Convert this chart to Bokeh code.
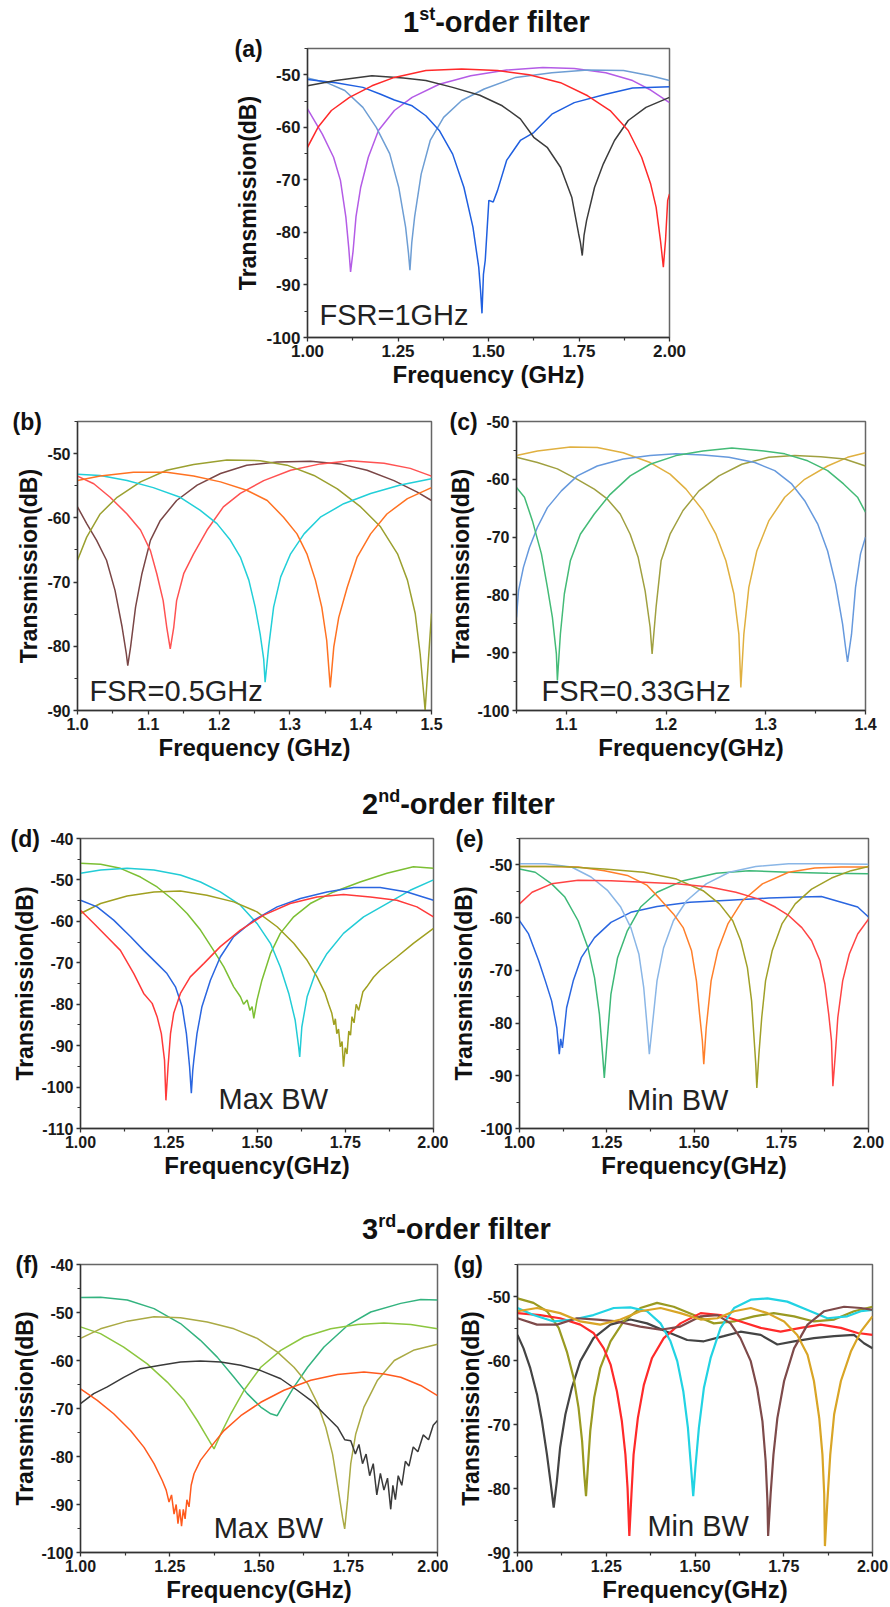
from bokeh.plotting import figure
from bokeh.layouts import column, row
from bokeh.models import Label, FixedTicker, PrintfTickFormatter, Range1d, Div
from bokeh.embed import file_html
from bokeh.resources import INLINE

FONT = "Liberation Sans"

# ================= DATA (frequency GHz, transmission dB) =================
# ---- (a) 1st-order, FSR = 1 GHz ----
A_VIOLET = [(1.000,-56.5),(1.041,-61.3),(1.072,-65.7),(1.091,-70.1),(1.106,-77.1),(1.114,-83.0),(1.119,-87.5),
            (1.126,-83.5),(1.134,-77.0),(1.147,-71.4),(1.168,-65.7),(1.196,-60.6),(1.240,-56.8),(1.289,-54.3),
            (1.364,-51.8),(1.451,-50.2),(1.550,-49.1),(1.650,-48.6),(1.737,-48.8),(1.824,-49.6),(1.898,-51.1),
            (1.948,-52.9),(2.000,-55.3)]
A_STEEL = [(1.000,-50.6),(1.053,-51.5),(1.103,-53.0),(1.153,-56.2),(1.190,-60.0),(1.227,-65.0),(1.252,-71.4),
           (1.271,-79.0),(1.279,-84.0),(1.283,-87.2),(1.288,-82.0),(1.296,-77.0),(1.314,-68.9),(1.339,-62.5),
           (1.376,-58.1),(1.426,-54.9),(1.488,-52.7),(1.575,-50.5),(1.675,-49.6),(1.774,-49.1),(1.873,-49.2),
           (1.948,-50.2),(2.000,-51.1)]
A_BLUE = [(1.000,-50.9),(1.078,-51.5),(1.153,-52.4),(1.202,-53.7),(1.240,-54.8),(1.289,-55.9),(1.327,-57.8),
          (1.364,-60.6),(1.401,-65.1),(1.432,-71.4),(1.457,-79.0),(1.473,-86.6),(1.478,-91.0),(1.482,-95.4),
          (1.486,-88.0),(1.491,-85.3),(1.501,-73.9),(1.513,-74.2),(1.525,-72.0),(1.550,-66.3),(1.588,-62.5),
          (1.625,-61.0),(1.675,-57.5),(1.737,-55.3),(1.824,-53.7),(1.898,-52.5),(2.000,-52.3)]
A_GREY = [(1.000,-52.1),(1.078,-51.1),(1.178,-50.2),(1.265,-50.6),(1.327,-51.1),(1.401,-52.4),(1.476,-53.9),
          (1.538,-55.9),(1.588,-58.4),(1.625,-61.9),(1.662,-63.8),(1.699,-67.6),(1.730,-73.3),(1.749,-80.3),
          (1.754,-82.0),(1.759,-84.4),(1.764,-80.5),(1.771,-77.7),(1.793,-71.4),(1.817,-67.0),(1.848,-62.5),
          (1.886,-58.7),(1.935,-56.2),(2.000,-54.3)]
A_RED = [(1.000,-63.8),(1.029,-60.0),(1.066,-56.8),(1.116,-54.3),(1.178,-52.1),(1.240,-50.5),(1.327,-49.2),
         (1.426,-48.9),(1.525,-49.2),(1.612,-50.0),(1.699,-51.5),(1.774,-54.0),(1.836,-56.8),(1.886,-60.6),
         (1.923,-65.7),(1.948,-70.8),(1.963,-75.2),(1.975,-81.5),(1.983,-86.6),(1.989,-81.5),(1.995,-73.9),
         (2.000,-72.7)]
A_CURVES = [A_VIOLET, A_STEEL, A_BLUE, A_GREY, A_RED]
A_COLORS = ["#B45CE6", "#6E9ED4", "#1F5FE0", "#3C3C3C", "#FF2A2A"]
A_XTICKS = [1.0, 1.25, 1.5, 1.75, 2.0]
A_XMINOR = [1.125, 1.375, 1.625, 1.875]
A_YTICKS = [-100, -90, -80, -70, -60, -50]
A_YMINOR = [-95, -85, -75, -65, -55, -45]

# ---- (b) 1st-order, FSR = 0.5 GHz ----
B_BROWN = [(1.000,-58.3),(1.013,-60.9),(1.027,-63.5),(1.041,-66.6),(1.053,-71.3),(1.063,-77.0),(1.069,-81.2),
           (1.071,-83.0),(1.075,-80.1),(1.082,-73.9),(1.091,-68.7),(1.103,-63.5),(1.117,-60.4),(1.140,-57.3),
           (1.169,-54.9),(1.202,-53.1),(1.239,-51.8),(1.282,-51.3),(1.329,-51.2),(1.371,-51.6),(1.409,-52.6),
           (1.447,-54.2),(1.480,-56.0),(1.500,-57.3)]
B_RED = [(1.000,-53.5),(1.023,-54.7),(1.046,-56.8),(1.070,-59.4),(1.089,-61.9),(1.103,-65.1),(1.112,-68.7),
         (1.121,-72.9),(1.126,-77.0),(1.131,-80.4),(1.136,-77.0),(1.140,-72.9),(1.150,-68.7),(1.164,-65.6),
         (1.183,-61.9),(1.206,-58.3),(1.230,-56.2),(1.263,-54.2),(1.301,-52.6),(1.343,-51.6),(1.385,-51.1),
         (1.433,-51.5),(1.470,-52.3),(1.500,-53.5)]
B_OLIVE = [(1.000,-66.6),(1.013,-63.0),(1.032,-59.4),(1.056,-56.8),(1.089,-54.4),(1.126,-52.6),(1.164,-51.7),
           (1.211,-51.0),(1.258,-51.1),(1.296,-51.8),(1.334,-53.4),(1.367,-55.5),(1.400,-58.3),(1.428,-61.4),
           (1.452,-65.6),(1.466,-69.7),(1.477,-74.9),(1.484,-81.2),(1.489,-87.4),(1.491,-90.0),(1.495,-83.2),
           (1.500,-74.9)]
B_CYAN = [(1.000,-53.2),(1.032,-53.4),(1.070,-54.2),(1.107,-55.3),(1.145,-56.8),(1.173,-58.8),(1.197,-60.9),
          (1.216,-63.5),(1.230,-66.1),(1.242,-69.7),(1.251,-73.9),(1.258,-78.1),(1.263,-82.0),(1.265,-85.6),
          (1.270,-80.1),(1.277,-73.9),(1.287,-69.2),(1.301,-65.6),(1.320,-62.5),(1.343,-59.9),(1.376,-57.8),
          (1.414,-56.2),(1.456,-54.9),(1.500,-53.9)]
B_ORANGE = [(1.000,-54.2),(1.032,-53.5),(1.079,-52.9),(1.126,-52.9),(1.164,-53.5),(1.202,-54.4),(1.239,-55.7),
            (1.268,-57.3),(1.291,-59.9),(1.310,-62.5),(1.324,-65.6),(1.336,-69.7),(1.345,-73.9),(1.352,-79.1),
            (1.357,-86.4),(1.362,-80.1),(1.369,-75.5),(1.381,-70.8),(1.395,-66.1),(1.414,-62.5),(1.437,-59.4),
            (1.466,-57.0),(1.500,-55.3)]
B_CURVES = [B_BROWN, B_RED, B_OLIVE, B_CYAN, B_ORANGE]
B_COLORS = ["#7A4646", "#FF5252", "#9BA030", "#22CFD8", "#FF7222"]
B_XTICKS = [1.0, 1.1, 1.2, 1.3, 1.4, 1.5]
B_XMINOR = [1.05, 1.15, 1.25, 1.35, 1.45]
B_YTICKS = [-90, -80, -70, -60, -50]
B_YMINOR = [-85, -75, -65, -55, -45]

# ---- (c) 1st-order, FSR = 0.33 GHz ----
C_GOLD = [(1.050,-55.9),(1.071,-55.1),(1.104,-54.4),(1.131,-54.5),(1.157,-55.4),(1.184,-57.1),(1.204,-59.1),
          (1.220,-61.7),(1.237,-65.4),(1.250,-69.5),(1.260,-74.1),(1.268,-79.8),(1.273,-86.8),(1.275,-96.0),
          (1.278,-86.8),(1.283,-78.7),(1.291,-72.4),(1.303,-67.2),(1.319,-63.1),(1.339,-60.0),(1.362,-57.7),
          (1.382,-56.2),(1.400,-55.4)]
C_OLIVE = [(1.050,-56.2),(1.071,-57.1),(1.091,-58.2),(1.111,-60.0),(1.128,-61.7),(1.141,-63.4),(1.154,-66.0),
           (1.164,-69.5),(1.172,-73.5),(1.179,-79.3),(1.184,-85.6),(1.186,-90.2),(1.190,-82.1),(1.195,-74.1),
           (1.204,-69.5),(1.217,-65.4),(1.233,-62.0),(1.253,-59.4),(1.276,-57.4),(1.303,-56.2),(1.329,-55.9),
           (1.355,-56.1),(1.379,-56.5),(1.400,-57.7)]
C_BLUE = [(1.050,-83.9),(1.052,-79.3),(1.057,-75.2),(1.063,-71.8),(1.071,-68.3),(1.081,-64.9),(1.095,-62.0),
          (1.111,-59.4),(1.131,-57.7),(1.157,-56.5),(1.184,-55.9),(1.210,-55.6),(1.237,-55.8),(1.263,-56.2),
          (1.289,-57.1),(1.309,-58.5),(1.326,-60.8),(1.339,-63.7),(1.352,-67.7),(1.362,-72.4),(1.370,-78.1),
          (1.377,-85.0),(1.380,-89.1),(1.382,-91.6),(1.386,-86.8),(1.390,-78.7),(1.395,-72.9),(1.400,-70.0)]
C_GREEN = [(1.050,-61.4),(1.058,-63.1),(1.066,-67.2),(1.075,-72.9),(1.081,-78.7),(1.086,-83.9),(1.090,-90.2),
           (1.091,-94.8),(1.094,-86.8),(1.098,-79.8),(1.104,-74.1),(1.114,-69.5),(1.128,-66.0),(1.144,-62.6),
           (1.164,-59.4),(1.184,-57.4),(1.210,-55.9),(1.237,-55.1),(1.266,-54.6),(1.293,-55.0),(1.319,-55.6),
           (1.342,-56.8),(1.362,-58.5),(1.378,-60.8),(1.392,-63.1),(1.400,-65.7)]
C_CURVES = [C_GOLD, C_OLIVE, C_BLUE, C_GREEN]
C_COLORS = ["#E0B040", "#A0A040", "#6699DD", "#44BB77"]
C_XTICKS = [1.1, 1.2, 1.3, 1.4]
C_XMINOR = [1.05, 1.15, 1.25, 1.35]
C_YTICKS = [-100, -90, -80, -70, -60, -50]
C_YMINOR = [-95, -85, -75, -65, -55]

# ---- (d) 2nd-order, max bandwidth ----
D_LIME = [(1.000,-46.0),(1.057,-46.2),(1.113,-47.2),(1.170,-49.3),(1.217,-51.7),(1.264,-54.9),(1.302,-58.1),
          (1.340,-62.1),(1.377,-67.0),(1.406,-71.0),(1.434,-75.8),(1.453,-78.2),(1.462,-80.0),(1.472,-79.0),
          (1.480,-81.5),(1.486,-80.6),(1.491,-83.4),(1.500,-79.0),(1.514,-74.2),(1.538,-67.8),(1.566,-62.9),
          (1.604,-58.9),(1.651,-55.7),(1.717,-52.9),(1.792,-50.5),(1.868,-48.4),(1.943,-46.8),(2.000,-47.2)]
D_CYAN = [(1.000,-48.4),(1.057,-47.6),(1.132,-47.2),(1.208,-47.6),(1.283,-48.8),(1.340,-50.5),(1.396,-52.9),
          (1.453,-56.1),(1.500,-60.5),(1.538,-65.3),(1.566,-71.0),(1.590,-77.4),(1.608,-83.8),(1.618,-90.3),
          (1.621,-92.7),(1.627,-85.5),(1.642,-78.2),(1.665,-72.6),(1.698,-67.8),(1.745,-62.9),(1.802,-58.9),
          (1.868,-55.7),(1.934,-52.5),(2.000,-50.0)]
D_OLIVE = [(1.000,-58.1),(1.057,-55.7),(1.132,-53.9),(1.208,-52.9),(1.283,-52.7),(1.358,-53.7),(1.434,-55.3),
           (1.500,-57.7),(1.557,-61.3),(1.604,-65.3),(1.642,-69.4),(1.670,-73.4),(1.693,-77.4),(1.703,-80.0),
           (1.712,-82.2),(1.718,-85.0),(1.722,-83.5),(1.726,-87.1),(1.731,-86.0),(1.736,-90.3),(1.741,-89.0),
           (1.745,-95.1),(1.750,-90.5),(1.755,-92.0),(1.760,-86.5),(1.765,-87.5),(1.769,-83.0),(1.775,-84.5),
           (1.781,-80.0),(1.788,-81.5),(1.800,-77.0),(1.811,-75.8),(1.830,-73.5),(1.849,-71.8),(1.896,-68.6),
           (1.943,-65.3),(2.000,-61.7)]
D_BLUE = [(1.000,-54.9),(1.047,-56.5),(1.094,-59.7),(1.142,-63.7),(1.179,-67.0),(1.217,-70.2),(1.245,-72.6),
          (1.269,-75.8),(1.288,-80.6),(1.300,-87.1),(1.305,-91.5),(1.309,-95.1),(1.314,-101.5),(1.318,-96.0),
          (1.321,-93.5),(1.330,-87.1),(1.344,-80.6),(1.368,-74.2),(1.396,-68.6),(1.434,-63.7),(1.491,-59.7),
          (1.557,-56.5),(1.623,-54.5),(1.698,-52.9),(1.774,-51.8),(1.849,-51.8),(1.925,-52.9),(2.000,-54.9)]
D_RED = [(1.000,-57.3),(1.038,-60.5),(1.075,-63.7),(1.113,-67.0),(1.151,-72.6),(1.179,-77.4),(1.203,-79.8),
         (1.217,-83.0),(1.229,-87.1),(1.238,-93.5),(1.242,-103.2),(1.248,-95.1),(1.255,-87.1),(1.264,-82.2),
         (1.283,-77.4),(1.311,-73.4),(1.349,-70.2),(1.396,-66.1),(1.453,-62.1),(1.519,-58.5),(1.594,-55.7),
         (1.670,-54.1),(1.745,-53.5),(1.821,-54.1),(1.896,-54.9),(1.953,-56.5),(2.000,-58.9)]
D_CURVES = [D_LIME, D_CYAN, D_OLIVE, D_BLUE, D_RED]
D_COLORS = ["#7CBF33", "#22CCD6", "#A0A020", "#2A66E0", "#FF3A3A"]
D_XTICKS = [1.0, 1.25, 1.5, 1.75, 2.0]
D_XMINOR = [1.125, 1.375, 1.625, 1.875]
D_YTICKS = [-110, -100, -90, -80, -70, -60, -50, -40]
D_YMINOR = [-105, -95, -85, -75, -65, -55, -45]

# ---- (e) 2nd-order, min bandwidth ----
E_BLUE = [(1.000,-60.6),(1.026,-63.1),(1.055,-68.2),(1.074,-72.0),(1.092,-75.8),(1.107,-80.9),(1.114,-85.9),
          (1.118,-83.0),(1.123,-84.7),(1.135,-77.1),(1.154,-72.0),(1.177,-67.6),(1.215,-63.8),(1.262,-60.9),
          (1.319,-59.0),(1.394,-57.9),(1.488,-57.1),(1.601,-56.7),(1.714,-56.3),(1.809,-56.1),(1.865,-56.0),
          (1.922,-57.1),(1.969,-58.0),(2.000,-59.9)]
E_GREEN = [(1.000,-50.8),(1.045,-51.4),(1.092,-53.6),(1.130,-56.1),(1.168,-60.6),(1.196,-65.7),(1.215,-71.4),
           (1.229,-78.3),(1.238,-85.9),(1.243,-90.4),(1.251,-83.4),(1.262,-74.5),(1.281,-67.6),(1.309,-62.5),
           (1.347,-58.0),(1.394,-55.2),(1.469,-53.0),(1.564,-51.6),(1.658,-51.1),(1.771,-51.4),(1.884,-51.6),
           (2.000,-51.7)]
E_SKY = [(1.000,-49.8),(1.074,-49.8),(1.149,-50.4),(1.205,-52.3),(1.253,-54.9),(1.290,-58.0),(1.319,-61.9),
         (1.342,-66.9),(1.356,-73.3),(1.366,-80.9),(1.372,-85.9),(1.380,-80.9),(1.394,-72.0),(1.413,-65.7),
         (1.441,-60.6),(1.479,-56.8),(1.535,-53.6),(1.601,-51.4),(1.677,-50.3),(1.771,-49.8),(1.865,-49.8),
         (2.000,-49.9)]
E_ORANGE = [(1.000,-50.3),(1.074,-50.3),(1.168,-50.4),(1.243,-51.1),(1.309,-52.0),(1.366,-53.9),(1.403,-56.5),
            (1.441,-59.3),(1.469,-61.9),(1.493,-66.3),(1.507,-72.0),(1.516,-78.3),(1.524,-83.4),(1.528,-87.8),
            (1.535,-80.9),(1.549,-72.0),(1.568,-66.3),(1.597,-61.2),(1.639,-56.8),(1.696,-53.6),(1.771,-51.4),
            (1.846,-50.6),(1.922,-50.4),(2.000,-50.4)]
E_OLIVE = [(1.000,-50.3),(1.121,-50.3),(1.243,-50.8),(1.356,-51.4),(1.450,-52.7),(1.526,-54.9),(1.573,-57.4),
           (1.611,-60.6),(1.634,-64.4),(1.653,-69.5),(1.665,-75.8),(1.672,-82.8),(1.677,-87.8),(1.680,-92.3),
           (1.686,-85.9),(1.694,-79.0),(1.705,-72.0),(1.724,-66.3),(1.752,-61.2),(1.790,-57.4),(1.837,-54.6),
           (1.894,-52.5),(1.950,-51.1),(2.000,-50.3)]
E_RED = [(1.000,-57.4),(1.036,-55.2),(1.092,-53.6),(1.168,-52.9),(1.262,-53.0),(1.356,-53.3),(1.450,-53.6),
         (1.545,-54.2),(1.620,-55.2),(1.686,-56.5),(1.733,-58.0),(1.771,-59.6),(1.809,-61.9),(1.837,-64.4),
         (1.861,-68.2),(1.875,-72.6),(1.886,-78.3),(1.894,-83.4),(1.898,-92.0),(1.905,-85.9),(1.912,-79.0),
         (1.926,-72.0),(1.945,-66.9),(1.969,-63.1),(2.000,-60.3)]
E_CURVES = [E_BLUE, E_GREEN, E_SKY, E_ORANGE, E_OLIVE, E_RED]
E_COLORS = ["#2A66E0", "#3DB877", "#8AB6E6", "#FF7F2A", "#A0A028", "#FF4444"]
E_XTICKS = [1.0, 1.25, 1.5, 1.75, 2.0]
E_XMINOR = [1.125, 1.375, 1.625, 1.875]
E_YTICKS = [-100, -90, -80, -70, -60, -50]
E_YMINOR = [-95, -85, -75, -65, -55, -45]

# ---- (f) 3rd-order, max bandwidth ----
F_TEAL = [(1.000,-46.9),(1.056,-46.8),(1.131,-47.4),(1.206,-49.2),(1.280,-52.3),(1.336,-55.8),(1.383,-59.3),
          (1.430,-63.5),(1.467,-66.9),(1.505,-69.7),(1.533,-71.1),(1.551,-71.5),(1.570,-69.0),(1.598,-65.5),
          (1.636,-61.4),(1.682,-57.2),(1.748,-52.7),(1.813,-49.9),(1.897,-48.1),(1.953,-47.3),(2.000,-47.4)]
F_LIME = [(1.000,-53.0),(1.056,-54.4),(1.121,-57.2),(1.187,-60.7),(1.243,-64.5),(1.290,-68.3),(1.327,-72.5),
          (1.355,-76.0),(1.374,-78.4),(1.393,-75.3),(1.421,-71.1),(1.458,-66.2),(1.505,-61.4),(1.561,-57.9),
          (1.626,-55.1),(1.701,-53.4),(1.776,-52.5),(1.850,-52.2),(1.925,-52.5),(2.000,-53.4)]
F_KHAKI = [(1.000,-55.4),(1.056,-53.4),(1.131,-51.8),(1.206,-50.9),(1.280,-51.1),(1.355,-52.0),(1.430,-53.4),
           (1.495,-55.4),(1.551,-58.2),(1.598,-61.4),(1.636,-64.8),(1.664,-69.0),(1.687,-73.9),(1.706,-79.5),
           (1.721,-86.4),(1.734,-92.7),(1.740,-95.1),(1.748,-89.2),(1.757,-81.5),(1.771,-75.3),(1.794,-69.7),
           (1.832,-64.1),(1.879,-60.0),(1.935,-57.8),(2.000,-56.6)]
F_GREY = [(1.000,-69.0),(1.037,-66.9),(1.075,-65.5),(1.121,-63.5),(1.168,-61.7),(1.224,-61.0),(1.280,-60.3),
          (1.336,-60.1),(1.393,-60.3),(1.449,-61.0),(1.505,-62.1),(1.561,-63.8),(1.607,-66.2),(1.645,-68.3),
          (1.682,-71.1),(1.720,-73.9),(1.740,-76.5),(1.757,-76.7),(1.770,-79.5),(1.780,-77.5),(1.790,-81.5),
          (1.800,-79.5),(1.810,-84.0),(1.820,-81.5),(1.830,-88.0),(1.840,-83.5),(1.850,-87.0),(1.860,-84.5),
          (1.869,-91.0),(1.875,-86.0),(1.882,-89.0),(1.890,-84.0),(1.900,-86.0),(1.910,-81.0),(1.920,-82.0),
          (1.932,-78.0),(1.945,-79.0),(1.960,-75.5),(1.975,-76.5),(1.988,-73.5),(2.000,-72.5)]
F_ORANGE = [(1.000,-65.9),(1.047,-68.3),(1.093,-71.1),(1.140,-74.6),(1.178,-78.1),(1.206,-81.5),(1.229,-85.0),
            (1.240,-87.0),(1.248,-89.5),(1.255,-88.0),(1.262,-92.0),(1.268,-90.0),(1.273,-94.0),(1.278,-91.0),
            (1.283,-94.5),(1.288,-91.0),(1.293,-93.0),(1.298,-89.0),(1.304,-90.5),(1.310,-86.0),(1.318,-83.6),
            (1.336,-80.8),(1.364,-78.1),(1.402,-74.6),(1.449,-71.5),(1.505,-68.7),(1.570,-66.2),(1.645,-64.1),
            (1.720,-62.9),(1.794,-62.4),(1.850,-62.8),(1.897,-63.5),(1.953,-65.2),(2.000,-67.3)]
F_CURVES = [F_TEAL, F_LIME, F_KHAKI, F_GREY, F_ORANGE]
F_COLORS = ["#33B37F", "#8CC63F", "#AAAA44", "#3A3A3A", "#FF5A1E"]
F_XTICKS = [1.0, 1.25, 1.5, 1.75, 2.0]
F_XMINOR = [1.125, 1.375, 1.625, 1.875]
F_YTICKS = [-100, -90, -80, -70, -60, -50, -40]
F_YMINOR = [-95, -85, -75, -65, -55, -45]

# ---- (g) 3rd-order, min bandwidth ----
G_GREY = [(1.000,-56.0),(1.017,-58.1),(1.036,-61.2),(1.055,-65.3),(1.069,-69.5),(1.083,-74.7),(1.094,-79.4),
          (1.102,-83.0),(1.111,-78.8),(1.120,-73.6),(1.135,-68.4),(1.153,-64.3),(1.177,-60.1),(1.214,-56.5),
          (1.262,-54.4),(1.318,-53.6),(1.365,-54.2),(1.421,-55.5),(1.478,-56.8),(1.525,-57.0),(1.581,-56.2),
          (1.628,-55.5),(1.685,-56.0),(1.732,-57.5),(1.779,-57.0),(1.835,-56.5),(1.892,-56.2),(1.948,-56.0),
          (1.976,-57.3),(2.000,-58.1)]
G_OLIVE = [(1.000,-50.3),(1.045,-51.0),(1.083,-52.3),(1.116,-54.9),(1.139,-58.6),(1.158,-62.7),(1.172,-67.4),
           (1.182,-72.6),(1.188,-77.8),(1.193,-81.2),(1.198,-76.8),(1.205,-71.0),(1.216,-65.8),(1.233,-61.2),
           (1.262,-57.0),(1.299,-53.9),(1.346,-51.8),(1.393,-51.0),(1.440,-51.6),(1.497,-52.9),(1.553,-54.2),
           (1.610,-53.9),(1.666,-53.1),(1.722,-52.6),(1.779,-53.1),(1.835,-53.9),(1.892,-53.6),(1.948,-52.3),
           (2.000,-51.6)]
G_RED = [(1.000,-52.6),(1.064,-52.9),(1.120,-53.4),(1.177,-54.4),(1.214,-55.7),(1.243,-58.1),(1.262,-60.6),
         (1.280,-64.8),(1.294,-69.5),(1.304,-74.7),(1.310,-79.9),(1.315,-87.4),(1.321,-80.9),(1.327,-74.7),
         (1.339,-69.0),(1.356,-63.8),(1.379,-59.6),(1.412,-56.5),(1.459,-54.2),(1.516,-52.6),(1.572,-52.9),
         (1.628,-53.9),(1.685,-54.9),(1.741,-55.5),(1.798,-54.9),(1.854,-54.4),(1.911,-54.9),(1.958,-55.7),
         (2.000,-56.0)]
G_CYAN = [(1.000,-51.8),(1.045,-52.9),(1.102,-53.9),(1.158,-53.6),(1.214,-52.9),(1.271,-51.8),(1.318,-51.7),
          (1.365,-52.3),(1.403,-54.2),(1.431,-57.0),(1.450,-60.1),(1.467,-64.8),(1.480,-70.5),(1.489,-76.8),
          (1.495,-81.2),(1.501,-76.8),(1.511,-70.5),(1.525,-64.3),(1.544,-59.6),(1.572,-54.9),(1.610,-51.8),
          (1.657,-50.5),(1.704,-50.3),(1.760,-50.8),(1.817,-52.1),(1.873,-53.4),(1.929,-53.1),(1.967,-52.3),
          (2.000,-52.1)]
G_BROWN = [(1.000,-53.4),(1.055,-54.4),(1.111,-54.4),(1.167,-53.4),(1.224,-53.6),(1.280,-53.9),(1.346,-54.7),
           (1.403,-55.2),(1.459,-54.7),(1.516,-53.1),(1.563,-52.9),(1.600,-54.2),(1.628,-56.5),(1.657,-60.1),
           (1.675,-64.3),(1.690,-69.5),(1.699,-75.7),(1.704,-81.9),(1.706,-87.4),(1.713,-80.9),(1.721,-74.7),
           (1.732,-69.0),(1.751,-63.2),(1.779,-58.1),(1.817,-54.4),(1.864,-52.3),(1.920,-51.6),(1.967,-51.8),
           (2.000,-52.1)]
G_GOLD = [(1.000,-52.3),(1.055,-51.8),(1.120,-52.6),(1.177,-53.9),(1.233,-54.4),(1.290,-53.6),(1.346,-52.3),
          (1.403,-51.8),(1.459,-52.6),(1.516,-53.6),(1.563,-53.4),(1.610,-52.3),(1.657,-51.8),(1.704,-52.6),
          (1.751,-53.9),(1.788,-56.0),(1.817,-59.1),(1.835,-63.2),(1.850,-69.0),(1.859,-74.7),(1.864,-80.9),
          (1.866,-89.0),(1.873,-81.9),(1.881,-74.7),(1.892,-68.4),(1.911,-63.2),(1.939,-58.6),(1.967,-55.5),
          (2.000,-53.1)]
G_CURVES = [G_GREY, G_OLIVE, G_RED, G_CYAN, G_BROWN, G_GOLD]
G_COLORS = ["#444444", "#9A9A22", "#FF2A2A", "#22D3E3", "#7E4A4A", "#D9A526"]
G_XTICKS = [1.0, 1.25, 1.5, 1.75, 2.0]
G_XMINOR = [1.125, 1.375, 1.625, 1.875]
G_YTICKS = [-90, -80, -70, -60, -50]
G_YMINOR = [-85, -75, -65, -55, -45]

TITLES = [("1", "st"), ("2", "nd"), ("3", "rd")]
NOTES = ["FSR=1GHz", "FSR=0.5GHz", "FSR=0.33GHz", "Max BW", "Min BW", "Max BW", "Min BW"]


# ================= helpers =================
def title_div(h, left, pad_top, num, sup):
    html = (
        f'<div style="margin:0;padding:{pad_top}px 0 0 {left}px;'
        f"font-family:'Liberation Sans',Arial,sans-serif;font-weight:bold;font-size:29px;"
        f'line-height:33px;color:#111111;white-space:nowrap;">'
        f'{num}<span style="font-size:18px;position:relative;top:-12px;">{sup}</span>-order filter</div>'
    )
    return Div(text=html, width=890, height=h, margin=0)


def panel(w, h, bl, br, bt, bb, xr, yr, xt, xm, yt, ym, xfmt, curves, colors, lw,
          letter, ldx, note, note_x, note_y, xlabel, ystand,
          tick_size=16, xlab_size=24, ylab_size=23):
    p = figure(width=w, height=h, x_range=Range1d(*xr), y_range=Range1d(*yr),
               output_backend="svg", toolbar_location=None,
               min_border_left=bl, min_border_right=br, min_border_top=bt, min_border_bottom=bb)
    p.grid.visible = False
    p.background_fill_color = "white"
    p.border_fill_color = "white"
    p.outline_line_color = "#666666"
    p.outline_line_width = 1.5
    p.outline_line_alpha = 1.0
    for pts, c in zip(curves, colors):
        p.line([a for a, _ in pts], [b for _, b in pts], line_color=c, line_width=lw)
    p.xaxis.ticker = FixedTicker(ticks=xt, minor_ticks=xm)
    p.xaxis.formatter = PrintfTickFormatter(format=xfmt)
    p.yaxis.ticker = FixedTicker(ticks=yt, minor_ticks=ym)
    p.yaxis.formatter = PrintfTickFormatter(format="%d")
    for ax in (p.xaxis[0], p.yaxis[0]):
        ax.axis_line_color = "#333333"
        ax.axis_line_width = 1.3
        ax.major_tick_line_color = "#333333"
        ax.major_tick_line_width = 1.3
        ax.minor_tick_line_color = "#333333"
        ax.minor_tick_line_width = 1.2
        ax.major_tick_in = 0
        ax.major_tick_out = 4
        ax.minor_tick_in = 0
        ax.minor_tick_out = 3
        ax.major_label_text_font = FONT
        ax.major_label_text_font_style = "bold"
        ax.major_label_text_font_size = f"{tick_size}px"
        ax.major_label_text_color = "#1a1a1a"
        ax.major_label_standoff = 3
        ax.axis_label_text_font = FONT
        ax.axis_label_text_font_style = "bold"
        ax.axis_label_text_color = "#111111"
    p.xaxis.axis_label = xlabel
    p.xaxis.axis_label_text_font_size = f"{xlab_size}px"
    p.xaxis.axis_label_standoff = 1
    p.yaxis.axis_label = "Transmission(dB)"
    p.yaxis.axis_label_text_font_size = f"{ylab_size}px"
    p.yaxis.axis_label_standoff = ystand
    # panel letter drawn as the plot title, pulled to the left of the frame
    p.title.text = letter
    p.title.align = "left"
    p.title.offset = ldx
    p.title.vertical_align = "bottom"
    p.title.standoff = -26
    p.title.text_font = FONT
    p.title.text_font_style = "bold"
    p.title.text_font_size = "23px"
    p.title.text_color = "#111111"
    # note inside the frame
    p.add_layout(Label(x=note_x, y=note_y, text=note, text_font=FONT, text_font_size="29px",
                       text_color="#222222", text_baseline="middle", text_align="left"))
    return p


# ================= build =================
t1 = title_div(34, 403, 6, *TITLES[0])
pa = panel(890, 361, 307, 221, 14, 58, (1.0, 2.0), (-100, -45), A_XTICKS, A_XMINOR, A_YTICKS, A_YMINOR,
           "%.2f", A_CURVES, A_COLORS, 1.5, "(a)", -73, NOTES[0], 1.033, -95.8,
           "Frequency (GHz)", 2, tick_size=17, xlab_size=24, ylab_size=23)

pb = panel(445, 380, 77, 14, 26, 65, (1.0, 1.5), (-90, -45), B_XTICKS, B_XMINOR, B_YTICKS, B_YMINOR,
           "%.1f", B_CURVES, B_COLORS, 1.5, "(b)", -65, NOTES[1], 1.017, -86.9,
           "Frequency (GHz)", 2)
pc = panel(445, 380, 67, 25, 26, 65, (1.05, 1.4), (-100, -50), C_XTICKS, C_XMINOR, C_YTICKS, C_YMINOR,
           "%.1f", C_CURVES, C_COLORS, 1.5, "(c)", -67, NOTES[2], 1.075, -96.7,
           "Frequency(GHz)", 0)

t2 = title_div(47, 362, 13, *TITLES[1])
pd = panel(448, 373, 80, 15, 16, 67, (1.0, 2.0), (-110, -40), D_XTICKS, D_XMINOR, D_YTICKS, D_YMINOR,
           "%.2f", D_CURVES, D_COLORS, 1.5, "(d)", -70, NOTES[3], 1.391, -102.8,
           "Frequency(GHz)", 0)
pe = panel(442, 373, 66, 22, 16, 67, (1.0, 2.0), (-100, -45), E_XTICKS, E_XMINOR, E_YTICKS, E_YMINOR,
           "%.2f", E_CURVES, E_COLORS, 1.5, "(e)", -64, NOTES[4], 1.308, -94.5,
           "Frequency(GHz)", 0)

t3 = title_div(55, 362, 18, *TITLES[2])
pf = panel(448, 357, 80, 11, 14, 55, (1.0, 2.0), (-100, -40), F_XTICKS, F_XMINOR, F_YTICKS, F_YMINOR,
           "%.2f", F_CURVES, F_COLORS, 1.5, "(f)", -65, NOTES[5], 1.373, -94.9,
           "Frequency(GHz)", 0)
pg = panel(442, 357, 69, 18, 14, 55, (1.0, 2.0), (-90, -45), G_XTICKS, G_XMINOR, G_YTICKS, G_YMINOR,
           "%.2f", G_CURVES, G_COLORS, 2.2, "(g)", -64, NOTES[6], 1.366, -85.9,
           "Frequency(GHz)", 0)

layout = column(t1, pa, row(pb, pc, spacing=0), t2, row(pd, pe, spacing=0), t3, row(pf, pg, spacing=0),
                spacing=0)

open("out.html", "w").write(file_html(layout, INLINE))
